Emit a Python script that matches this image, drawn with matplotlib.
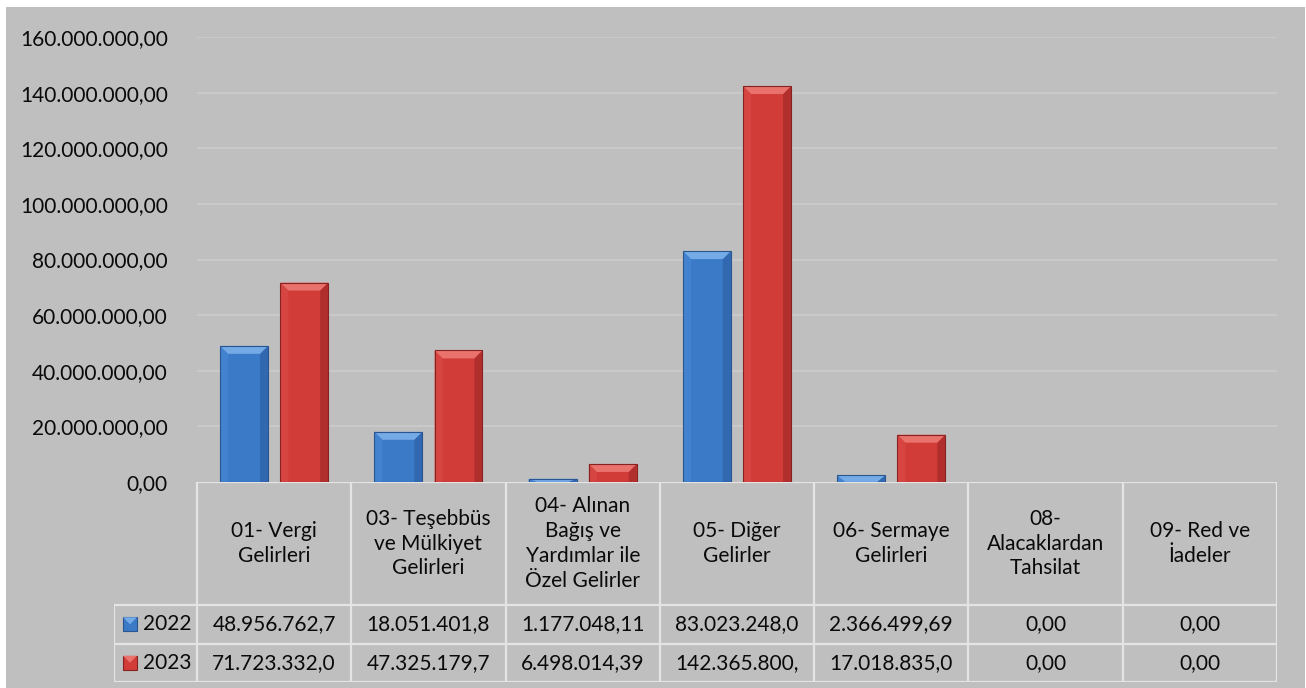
"""Bar chart with data table: 2022 vs 2023 revenue by economic class."""
import matplotlib
import numpy as np

matplotlib.use("Agg")
import matplotlib.pyplot as plt  # noqa: E402
from matplotlib.patches import Polygon, Rectangle  # noqa: E402

plt.rcParams["font.family"] = ["Lato", "DejaVu Sans"]

categories = [
    "01- Vergi\nGelirleri",
    "03- Teşebbüs\nve Mülkiyet\nGelirleri",
    "04- Alınan\nBağış ve\nYardımlar ile\nÖzel Gelirler",
    "05- Diğer\nGelirler",
    "06- Sermaye\nGelirleri",
    "08-\nAlacaklardan\nTahsilat",
    "09- Red ve\nİadeler",
]
series_names = ["2022", "2023"]
values_2022 = [48956762.7, 18051401.8, 1177048.11, 83023248.0, 2366499.69, 0.0, 0.0]
values_2023 = [71723332.0, 47325179.7, 6498014.39, 142365800.0, 17018835.0, 0.0, 0.0]
# strings as shown in the (narrow) table cells
table_2022 = ["48.956.762,7", "18.051.401,8", "1.177.048,11", "83.023.248,0",
              "2.366.499,69", "0,00", "0,00"]
table_2023 = ["71.723.332,0", "47.325.179,7", "6.498.014,39", "142.365.800,",
              "17.018.835,0", "0,00", "0,00"]
y_ticks = np.arange(0, 160_000_001, 20_000_000)

W, H = 1306, 688
BG = "#BFBFBF"
GRID = "#CBCBCB"
LINE = "#E4E4E4"
TXT = "#0A0A0A"
PAL = {
    "2022": dict(body="#3B7AC6", top="#74AAE6", left="#4282CE", right="#3268B0", edge="#2A5590"),
    "2023": dict(body="#D13C39", top="#E9726D", left="#D64542", right="#B02F2D", edge="#862220"),
}


def fmt(v):
    s = f"{v:,.2f}"
    return s.replace(",", "X").replace(".", ",").replace("X", ".")


def bevel(ax, x, y, w, h, c, px_x, px_y, b=8):
    """Paint an Excel-like bevelled rectangle (x, y, w, h in data units)."""
    if h <= 0:
        return
    bx = min(b * px_x, w / 2)
    by = min(b * px_y, h)
    ax.add_patch(Rectangle((x, y), w, h, facecolor=c["body"], edgecolor="none", zorder=3))
    ax.add_patch(Polygon([(x, y), (x + bx, y), (x + bx, y + h - by), (x, y + h)],
                         closed=True, facecolor=c["left"], edgecolor="none", zorder=3))
    ax.add_patch(Polygon([(x + w, y), (x + w - bx, y), (x + w - bx, y + h - by), (x + w, y + h)],
                         closed=True, facecolor=c["right"], edgecolor="none", zorder=3))
    ax.add_patch(Polygon([(x, y + h), (x + bx, y + h - by), (x + w - bx, y + h - by), (x + w, y + h)],
                         closed=True, facecolor=c["top"], edgecolor="none", zorder=3))
    ax.add_patch(Rectangle((x, y), w, h, facecolor="none", edgecolor=c["edge"], lw=0.8, zorder=4))


fig = plt.figure(figsize=(W / 100, H / 100), dpi=100, facecolor="white")
fig.patches.append(Rectangle((6 / W, 0), (W - 7) / W, (H - 7) / H, transform=fig.transFigure,
                             facecolor=BG, edgecolor="none", zorder=-10))

# plot area in pixels
L, R, T, B = 197, 1277, 37, 482
ax = fig.add_axes([L / W, 1 - B / H, (R - L) / W, (B - T) / H])
ax.set_facecolor("none")
n = len(categories)
ax.set_xlim(-0.5, n - 0.5)
ax.set_ylim(0, y_ticks[-1])
for s in ax.spines.values():
    s.set_visible(False)
ax.set_xticks([])
ax.set_yticks(y_ticks)
ax.set_yticklabels([fmt(v) for v in y_ticks], fontsize=15, color=TXT)
ax.tick_params(axis="y", length=0, pad=21)
for v in y_ticks[1:]:
    ax.axhline(v, color=GRID, lw=1.3, zorder=1)

cw = (R - L) / n
px_x = 1 / cw
px_y = y_ticks[-1] / (B - T)
bw, off = 0.31, 0.195
x = np.arange(n)
for vals, name, sign in [(values_2022, "2022", -1), (values_2023, "2023", 1)]:
    for xi, v in zip(x + sign * off, vals):
        bevel(ax, xi - bw / 2, 0, bw, v, PAL[name], px_x, px_y)

# data table below the plot area
TL, TB = 114, 682
tax = fig.add_axes([TL / W, 1 - TB / H, (R - TL) / W, (TB - B) / H])
tax.set_facecolor("none")
tax.axis("off")
x0 = -0.5 - (L - TL) / cw
tax.set_xlim(x0, n - 0.5)
tax.set_ylim(TB - B, 0)
hdr, row = 123, (TB - B - 123) / 2
kw = dict(color=LINE, lw=1.6, zorder=2, solid_capstyle="projecting")
tax.plot([-0.5, n - 0.5], [0, 0], **kw)
for yy in [hdr, hdr + row, hdr + 2 * row]:
    tax.plot([x0, n - 0.5], [yy, yy], **kw)
for i in range(n + 1):
    tax.plot([i - 0.5] * 2, [0, TB - B], **kw)
tax.plot([x0, x0], [hdr, TB - B], **kw)

for i, lab in enumerate(categories):
    tax.text(i, hdr / 2, lab, ha="center", va="center", fontsize=15,
             linespacing=1.3, color=TXT)
for r, (name, cells) in enumerate([("2022", table_2022), ("2023", table_2023)]):
    yc = hdr + row * (r + 0.5)
    k = 14
    kx = x0 + 9 * px_x
    c = PAL[name]
    tax.add_patch(Rectangle((kx, yc - k / 2), k * px_x, k, facecolor=c["body"],
                            edgecolor=c["edge"], lw=0.8, zorder=3))
    tax.add_patch(Polygon([(kx, yc - k / 2), (kx + k * px_x / 2, yc),
                           (kx + k * px_x, yc - k / 2)], closed=True,
                          facecolor=c["top"], edgecolor="none", zorder=4))
    tax.text(x0 + 29 * px_x, yc, name, ha="left", va="center", fontsize=15, color=TXT)
    for i, s in enumerate(cells):
        tax.text(i, yc, s, ha="center", va="center", fontsize=15, color=TXT)

fig.savefig("out.png", dpi=100, facecolor=fig.get_facecolor())
